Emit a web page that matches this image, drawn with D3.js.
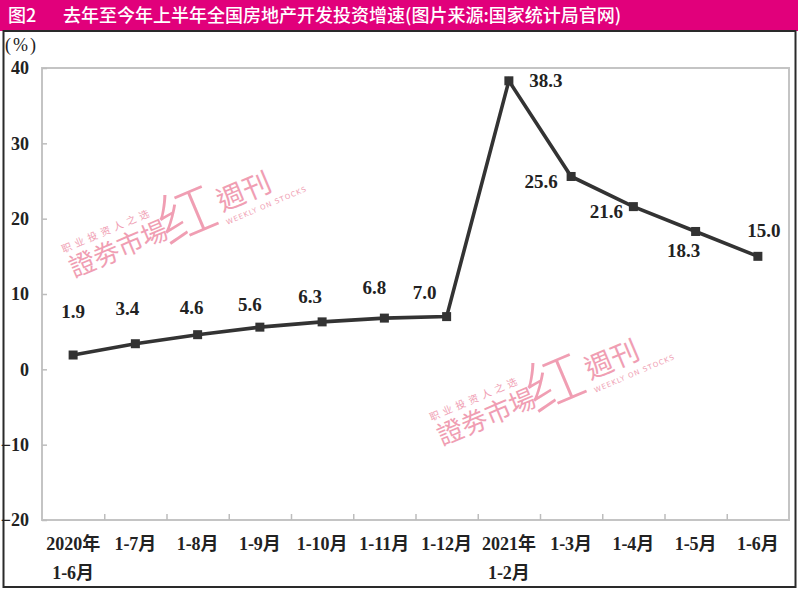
<!DOCTYPE html>
<html>
<head>
<meta charset="utf-8">
<script src="https://cdn.jsdelivr.net/npm/d3@7"></script>
<style>
  body { margin: 0; background: #fff; }
  svg { display: block; }
</style>
</head>
<body>
<svg width="800" height="590"></svg>
<script>
// data
var periods = ["2020年|1-6月", "1-7月", "1-8月", "1-9月", "1-10月", "1-11月", "1-12月",
               "2021年|1-2月", "1-3月", "1-4月", "1-5月", "1-6月"];
var growth = [1.9, 3.4, 4.6, 5.6, 6.3, 6.8, 7.0, 38.3, 25.6, 21.6, 18.3, 15.0];
var yTicks = [-20, -10, 0, 10, 20, 30, 40];

// label offsets from the marker (dx, dy)
var labelOffset = [[0, -43], [-8, -35], [-6, -27], [-10, -22], [-12, -25], [-10, -30], [-22, -24],
                   [37, 0], [-30, 6], [-27, 5], [-12, 20], [6, -25]];

var svg = d3.select("svg");
var serif = "'Liberation Serif','Times New Roman','Noto Sans CJK SC',serif";
var pink = "#ee8ea6";
var ink = "#222";

// header bar
svg.append("rect").attr("x", 0).attr("y", 0).attr("width", 798).attr("height", 31)
    .attr("fill", "#e1007b");
svg.append("text").attr("x", 8).attr("y", 22)
    .style("font-family", "'Noto Sans CJK SC'").style("font-size", "18px").style("font-weight", "500")
    .style("fill", "#fff").text("图2");
svg.append("text").attr("x", 63).attr("y", 22)
    .style("font-family", "'Noto Sans CJK SC'").style("font-size", "18px").style("font-weight", "500")
    .style("fill", "#fff").text("去年至今年上半年全国房地产开发投资增速(图片来源:国家统计局官网)");

// outer frame
svg.append("rect").attr("x", 3.5).attr("y", 31).attr("width", 792).attr("height", 556)
    .attr("fill", "none").attr("stroke", "#2a2a2a").attr("stroke-width", 2);

var plotL = 42, plotR = 789, plotT = 68, plotB = 520;

var x = d3.scaleBand().domain(d3.range(periods.length)).range([plotL, plotR]).padding(0);
var xi = d3.scaleLinear().domain([0, periods.length]).range([plotL, plotR]);
var y = d3.scaleLinear().domain([-20, 40]).range([plotB, plotT]);

// plot box
svg.append("rect").attr("x", plotL).attr("y", plotT).attr("width", plotR - plotL).attr("height", plotB - plotT)
    .attr("fill", "none").attr("stroke", "#c4c4c4").attr("stroke-width", 2);

var yAxis = svg.append("g").attr("transform", "translate(" + plotL + ",0)")
    .call(d3.axisLeft(y).tickValues(yTicks).tickSize(-5).tickPadding(13).tickFormat(d3.format("d")));
yAxis.select(".domain").remove();
yAxis.selectAll("line").attr("stroke", "#bdbdbd").attr("stroke-width", 1.5);
yAxis.selectAll("text").style("font-family", serif).style("font-size", "18px")
    .style("font-weight", "bold").style("fill", ink);

var xAxis = svg.append("g").attr("transform", "translate(0," + plotB + ")")
    .call(d3.axisBottom(xi).tickValues(d3.range(1, periods.length)).tickSize(-6).tickFormat(""));
xAxis.select(".domain").remove();
xAxis.selectAll("line").attr("stroke", "#bdbdbd").attr("stroke-width", 1.5);

// category labels
var cat = svg.append("g").selectAll("text").data(periods).enter().append("text")
    .attr("text-anchor", "middle")
    .style("font-family", serif).style("font-size", "18px").style("font-weight", "bold")
    .style("fill", ink);
cat.each(function(d, i) {
  var parts = d.split("|");
  var t = d3.select(this);
  parts.forEach(function(p, j) {
    t.append("tspan").attr("x", x(i) + x.bandwidth() / 2).attr("y", 550 + j * 29).text(p);
  });
});

// "(%)"
svg.append("text").attr("x", 5).attr("y", 51)
    .style("font-family", serif).style("font-size", "18px").style("letter-spacing", "2px")
    .style("fill", ink).text("(%)");

// watermarks
function watermark(cx, cy) {
  var g = svg.append("g").attr("transform", "translate(" + cx + "," + cy + ") rotate(-23)")
      .style("fill", pink).style("opacity", 0.85);
  g.append("text").attr("x", -24).attr("y", 15).attr("text-anchor", "end")
      .style("font-family", "'Noto Sans CJK TC'").style("font-size", "26px").text("證劵市場");
  g.append("text").attr("x", -30).attr("y", -12).attr("text-anchor", "end")
      .style("font-family", "'Noto Sans CJK SC'").style("font-size", "10px").style("letter-spacing", "4px")
      .text("职业投资人之选");
  g.append("text").attr("x", 0).attr("y", 22).attr("text-anchor", "middle")
      .style("font-family", "'Noto Sans CJK SC'").style("font-size", "58px").style("font-weight", "300")
      .text("红");
  g.append("text").attr("x", 34).attr("y", 12)
      .style("font-family", "'Noto Sans CJK TC'").style("font-size", "28px").text("週刊");
  g.append("text").attr("x", 34).attr("y", 26)
      .style("font-family", "'DejaVu Sans'").style("font-size", "7px").style("letter-spacing", "1px")
      .text("WEEKLY ON STOCKS");
}
watermark(186, 214);
watermark(554, 382);

// line and markers
var cx = function(d, i) { return x(i) + x.bandwidth() / 2; };
var line = d3.line().x(function(d, i) { return cx(d, i); }).y(function(d) { return y(d); });

svg.append("path").datum(growth).attr("d", line)
    .attr("fill", "none").attr("stroke", "#333").attr("stroke-width", 3.6).attr("stroke-linejoin", "miter");

svg.append("g").selectAll("rect").data(growth).enter().append("rect")
    .attr("x", function(d, i) { return cx(d, i) - 4.5; })
    .attr("y", function(d) { return y(d) - 4.5; })
    .attr("width", 9).attr("height", 9).attr("fill", "#333");

svg.append("g").selectAll("text").data(growth).enter().append("text")
    .attr("x", function(d, i) { return cx(d, i) + labelOffset[i][0]; })
    .attr("y", function(d, i) { return y(d) + labelOffset[i][1] + 6; })
    .attr("text-anchor", "middle")
    .style("font-family", serif).style("font-size", "19px").style("font-weight", "bold")
    .style("fill", ink)
    .text(function(d) { return d.toFixed(1); });
</script>
</body>
</html>
